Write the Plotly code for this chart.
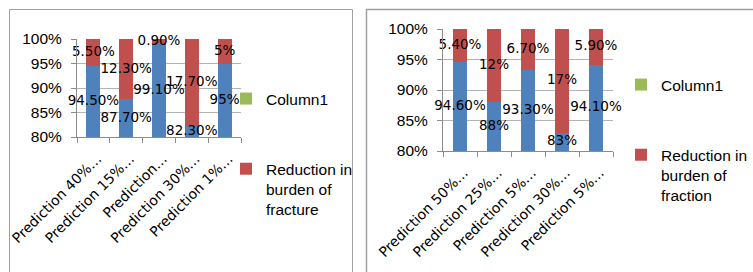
import plotly.graph_objects as go

# ---------------- data ----------------
left_categories = ["Prediction 40%…", "Prediction 15%…", "Prediction…", "Prediction 30%…", "Prediction 1%…"]
left_base = [94.5, 87.7, 99.1, 82.3, 95.0]
left_reduction = [5.5, 12.3, 0.9, 17.7, 5.0]
left_reduction_name = "Reduction in<br>burden of<br>fracture"

right_categories = ["Prediction 50%…", "Prediction 25%…", "Prediction 5%…", "Prediction 30%…", "Prediction 5%…"]
right_base = [94.6, 88.0, 93.3, 83.0, 94.1]
right_reduction = [5.4, 12.0, 6.7, 17.0, 5.9]
right_reduction_name = "Reduction in<br>burden of<br>fraction"

column1_name = "Column1"
column1_values = [0, 0, 0, 0, 0]

y_ticks = [80, 85, 90, 95, 100]
y_tick_labels = ["80%", "85%", "90%", "95%", "100%"]
y_range = [80, 100]

# ---------------- style ----------------
BLUE = "#4F81BD"
RED = "#C0504D"
GREEN = "#9BBB59"
GRID = "#b3b3b3"
AXIS = "#8c8c8c"
BOX = "#a0a0a0"
SANS = "Liberation Sans, Arial, sans-serif"
LABEL_FONT = "DejaVu Sans, Verdana, sans-serif"
W, H = 753, 272


def fmt(v):
    return f"{int(round(v))}%" if abs(v - round(v)) < 1e-9 else f"{v:.2f}%"


def add_chart(fig, cats, base, red, red_name, xa, ya, legend):
    idx = list(range(len(cats)))
    fig.add_trace(go.Bar(x=idx, y=base, marker=dict(color=BLUE, line=dict(width=0)),
                         width=0.43, showlegend=False, xaxis=xa, yaxis=ya, hoverinfo="skip"))
    fig.add_trace(go.Bar(x=idx, y=red, name=red_name, marker=dict(color=RED, line=dict(width=0)),
                         width=0.43, legend=legend, legendgroup=legend + "r", legendrank=2,
                         xaxis=xa, yaxis=ya))
    fig.add_trace(go.Bar(x=idx, y=column1_values, name=column1_name,
                         marker=dict(color=GREEN, line=dict(width=0)),
                         width=0.43, legend=legend, legendgroup=legend + "c", legendrank=1,
                         xaxis=xa, yaxis=ya))
    lo, hi = y_range
    blue_mid = [(lo + min(b, hi)) / 2 for b in base]
    red_mid = [(max(b, lo) + min(b + r, hi)) / 2 for b, r in zip(base, red)]
    fig.add_trace(go.Scatter(x=idx + idx, y=blue_mid + red_mid,
                             text=[fmt(v) for v in base] + [fmt(v) for v in red],
                             mode="text", textposition="middle center",
                             textfont=dict(family=LABEL_FONT, size=13.5, color="black"),
                             cliponaxis=False, showlegend=False, hoverinfo="skip",
                             xaxis=xa, yaxis=ya))


fig = go.Figure()
add_chart(fig, left_categories, left_base, left_reduction, left_reduction_name, "x", "y", "legend")
add_chart(fig, right_categories, right_base, right_reduction, right_reduction_name, "x2", "y2", "legend2")


def xaxis(domain, cats, anchor):
    n = len(cats)
    return dict(domain=domain, anchor=anchor, range=[-0.5, n - 0.5],
                tickmode="array", tickvals=list(range(n)), ticktext=cats,
                tickangle=-45, ticks="", showgrid=False, zeroline=False,
                showline=True, linecolor=AXIS, linewidth=1, automargin=False,
                ticklabelstandoff=7, ticklabelshift=4,
                tickfont=dict(family=LABEL_FONT, size=14, color="black"),
                minor=dict(tickmode="array", tickvals=[i - 0.5 for i in range(n + 1)],
                           ticks="outside", ticklen=5, tickcolor=AXIS, showgrid=False),
                fixedrange=True)


def yaxis(domain, anchor):
    return dict(domain=domain, anchor=anchor, range=y_range, tickmode="array",
                tickvals=y_ticks, ticktext=y_tick_labels, ticks="outside", ticklen=5,
                tickcolor=AXIS, showline=True, linecolor=AXIS, linewidth=1,
                showgrid=True, gridcolor=GRID, gridwidth=1, zeroline=False,
                ticklabelstandoff=6, automargin=False,
                tickfont=dict(family=SANS, size=15.5, color="black"), fixedrange=True)


fig.update_layout(
    width=W, height=H, margin=dict(l=0, r=0, t=0, b=0, autoexpand=False),
    paper_bgcolor="white", plot_bgcolor="white", barmode="stack",
    xaxis=xaxis([77 / W, 241 / W], left_categories, "y"),
    yaxis=yaxis([1 - 137 / H, 1 - 39 / H], "x"),
    xaxis2=xaxis([443 / W, 613 / W], right_categories, "y2"),
    yaxis2=yaxis([1 - 151 / H, 1 - 29 / H], "x2"),
    legend=dict(x=226 / W, y=1 - 82 / H, xanchor="left", yanchor="top",
                traceorder="grouped", tracegroupgap=47, valign="top",
                font=dict(family=SANS, size=15.5, color="black"),
                bgcolor="rgba(0,0,0,0)", itemwidth=30),
    legend2=dict(x=621 / W, y=1 - 68 / H, xanchor="left", yanchor="top",
                 traceorder="grouped", tracegroupgap=47, valign="top",
                 font=dict(family=SANS, size=15.5, color="black"),
                 bgcolor="rgba(0,0,0,0)", itemwidth=30),
    shapes=[
        dict(type="rect", xref="paper", yref="paper", x0=9.5 / W, x1=352.5 / W,
             y0=-0.2, y1=1 - 9.5 / H, line=dict(color=BOX, width=1)),
        dict(type="rect", xref="paper", yref="paper", x0=366.5 / W, x1=1.2,
             y0=-0.2, y1=1 - 9.5 / H, line=dict(color=BOX, width=1.5)),
    ],
    showlegend=True,
)

fig.write_html("out.html", config={"displayModeBar": False},
               post_script="document.body.style.margin='0';document.body.style.overflow='hidden';")
